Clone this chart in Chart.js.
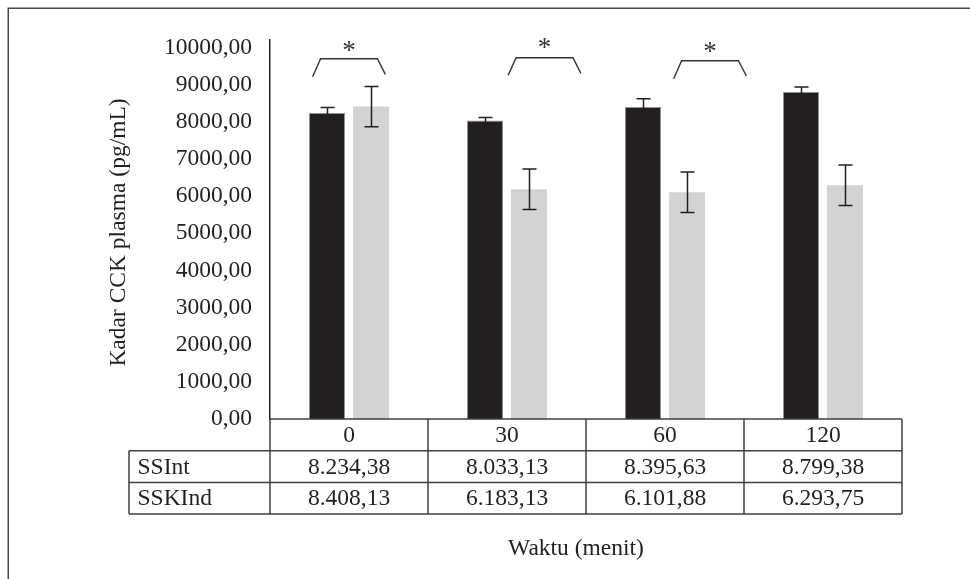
<!DOCTYPE html>
<html><head><meta charset="utf-8">
<script src="https://cdn.jsdelivr.net/npm/chart.js@4.4.1/dist/chart.umd.min.js"></script>
<style>html,body{margin:0;padding:0;background:#fff;}canvas{display:block;}</style>
</head><body>
<canvas id="c" width="970" height="579"></canvas>
<script>
// ---- data ----
const categories = ['0', '30', '60', '120'];
const seriesNames = ['SSInt', 'SSKInd'];
const ssint = [8234.38, 8033.13, 8395.63, 8799.38];
const sskind = [8408.13, 6183.13, 6101.88, 6293.75];
const ssintErr = [150, 80, 225, 135];
const sskindErr = [540, 548, 543, 545];
const ssintLabels = ['8.234,38', '8.033,13', '8.395,63', '8.799,38'];
const sskindLabels = ['8.408,13', '6.183,13', '6.101,88', '6.293,75'];
const yTickValues = [0, 1000, 2000, 3000, 4000, 5000, 6000, 7000, 8000, 9000, 10000];
const yTitle = 'Kadar CCK plasma (pg/mL)';
const xTitle = 'Waktu (menit)';
// significance brackets (category index units / data values)
const sigCenters = [0, 1.2375, 2.285];
const sigTop = [9696, 9723, 9642];
const sigFootL = [9212, 9249, 9158];
const sigFootR = [9276, 9303, 9230];
const sigStar = [10038, 10126, 10019];

const FONT = 'Liberation Serif';
const FS = 23.5;
const INK = '#231F20';
const LINE = '#404040';

const fmt = v => v.toFixed(2).replace('.', ',');

const deco = {
  id: 'deco',
  beforeDraw(chart) {
    const ctx = chart.ctx;
    ctx.save();
    ctx.fillStyle = '#fff';
    ctx.fillRect(0, 0, chart.width, chart.height);
    ctx.strokeStyle = '#4a4a4a';
    ctx.lineWidth = 1.5;
    ctx.strokeRect(8.25, 8.25, 1000, 700);
    ctx.restore();
  },
  afterDatasetsDraw(chart) {
    const ctx = chart.ctx, y = chart.scales.y;
    const errs = [ssintErr, sskindErr];
    ctx.save();
    ctx.strokeStyle = INK;
    ctx.lineWidth = 1.5;
    chart.data.datasets.forEach((ds, d) => {
      const meta = chart.getDatasetMeta(d);
      meta.data.forEach((bar, i) => {
        const v = ds.data[i], e = errs[d][i];
        const yt = y.getPixelForValue(v + e), yb = y.getPixelForValue(v - e);
        const x = Math.round(bar.x) + 0.5;
        ctx.beginPath();
        ctx.moveTo(x, yt); ctx.lineTo(x, yb);
        ctx.moveTo(x - 7, yt); ctx.lineTo(x + 7, yt);
        ctx.moveTo(x - 7, yb); ctx.lineTo(x + 7, yb);
        ctx.stroke();
      });
    });
    ctx.restore();
  },
  afterDraw(chart) {
    const ctx = chart.ctx, xs = chart.scales.x, ys = chart.scales.y, a = chart.chartArea;
    const rowH = 31.7;
    const t0 = a.bottom, t1 = t0 + rowH, t2 = t1 + rowH, t3 = t2 + rowH;
    const leftCol = a.left - 141;
    ctx.save();
    // table
    ctx.strokeStyle = LINE;
    ctx.lineWidth = 1.5;
    ctx.beginPath();
    ctx.moveTo(a.left, t0); ctx.lineTo(a.right, t0);
    ctx.moveTo(leftCol, t1); ctx.lineTo(a.right, t1);
    ctx.moveTo(leftCol, t2); ctx.lineTo(a.right, t2);
    ctx.moveTo(leftCol, t3); ctx.lineTo(a.right, t3);
    ctx.moveTo(leftCol, t1); ctx.lineTo(leftCol, t3);
    for (let i = 0; i <= categories.length; i++) {
      const x = xs.getPixelForValue(i - 0.5);
      ctx.moveTo(x, t0); ctx.lineTo(x, t3);
    }
    ctx.stroke();
    ctx.fillStyle = INK;
    ctx.font = FS + 'px "' + FONT + '"';
    ctx.textBaseline = 'middle';
    ctx.textAlign = 'center';
    categories.forEach((c, i) => {
      const x = xs.getPixelForValue(i);
      ctx.fillText(c, x, (t0 + t1) / 2 + 1);
      ctx.fillText(ssintLabels[i], x, (t1 + t2) / 2 + 1);
      ctx.fillText(sskindLabels[i], x, (t2 + t3) / 2 + 1);
    });
    ctx.textAlign = 'left';
    ctx.fillText(seriesNames[0], leftCol + 8.5, (t1 + t2) / 2 + 1);
    ctx.fillText(seriesNames[1], leftCol + 8.5, (t2 + t3) / 2 + 1);
    // x title
    ctx.textAlign = 'center';
    ctx.fillText(xTitle, (a.left + a.right) / 2 - 10, 549);
    // y title
    ctx.save();
    ctx.translate(a.left - 151, (a.top + a.bottom) / 2 + 3);
    ctx.rotate(-Math.PI / 2);
    ctx.fillText(yTitle, 0, 0);
    ctx.restore();
    // brackets
    ctx.strokeStyle = '#333';
    ctx.lineWidth = 1.4;
    ctx.font = '27px "' + FONT + '"';
    sigCenters.forEach((c, k) => {
      const xl = xs.getPixelForValue(c - 0.23), xsl = xs.getPixelForValue(c - 0.18);
      const xsr = xs.getPixelForValue(c + 0.18), xr = xs.getPixelForValue(c + 0.23);
      const yt = ys.getPixelForValue(sigTop[k]);
      ctx.beginPath();
      ctx.moveTo(xl, ys.getPixelForValue(sigFootL[k]));
      ctx.lineTo(xsl, yt);
      ctx.lineTo(xsr, yt);
      ctx.lineTo(xr, ys.getPixelForValue(sigFootR[k]));
      ctx.stroke();
      ctx.textBaseline = 'alphabetic';
      ctx.fillStyle = '#333';
      ctx.fillText('*', xs.getPixelForValue(c), ys.getPixelForValue(sigStar[k]) + 13);
    });
    ctx.restore();
  }
};

new Chart(document.getElementById('c'), {
  type: 'bar',
  data: {
    labels: categories,
    datasets: [
      { label: seriesNames[0], data: ssint, backgroundColor: INK, borderColor: '#8f8f8f',
        borderWidth: { left: 1, right: 1, top: 1, bottom: 0 }, borderSkipped: 'bottom' },
      { label: seriesNames[1], data: sskind, backgroundColor: '#D1D3D4', borderWidth: 0 }
    ]
  },
  options: {
    responsive: false,
    animation: false,
    devicePixelRatio: 1,
    categoryPercentage: 0.557,
    barPercentage: 0.818,
    layout: { padding: { left: 0, right: 68, top: 40, bottom: 160 } },
    plugins: { legend: { display: false }, tooltip: { enabled: false } },
    scales: {
      x: { type: 'category', display: false },
      y: {
        min: 0, max: 10200,
        afterBuildTicks: s => { s.ticks = yTickValues.map(v => ({ value: v })); },
        afterFit: s => { s.width = 270; },
        grid: { display: false, drawTicks: false },
        border: { display: true, color: INK, width: 1.5 },
        ticks: { padding: 18, color: INK, font: { family: FONT, size: FS }, callback: v => fmt(v) }
      }
    }
  },
  plugins: [deco]
});
</script>
</body></html>
